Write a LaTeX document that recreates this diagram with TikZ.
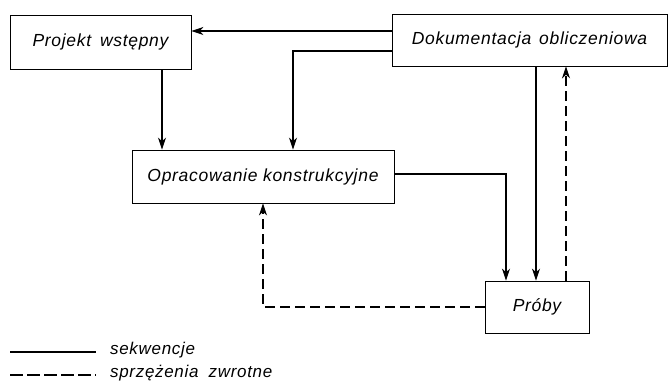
\documentclass[tikz,border=0pt]{standalone}
\usepackage{fontspec}
\setsansfont{Liberation Sans}[LetterSpace=4]
\usetikzlibrary{arrows.meta}
\tikzset{
  box/.style={draw, line width=0.9pt, inner sep=0pt, font=\sffamily\itshape\fontsize{17.5}{20}\selectfont},
  seq/.style={line width=1.1pt, -{Stealth[length=12pt,width=8pt]}},
  fb/.style={line width=1.1pt, dash pattern=on 10pt off 5pt, -{Stealth[length=12pt,width=8pt]}},
  legendtext/.style={font=\sffamily\itshape\fontsize{17}{20}\selectfont, anchor=west, inner sep=0pt}
}
\begin{document}
\begin{tikzpicture}[x=1pt,y=-1pt]
\useasboundingbox (0,0) rectangle (668,383);
\node[box, minimum width=181pt, minimum height=54pt] (proj) at (100.5,42) {Projekt\hspace{0.5em}wstępny};
\node[box, minimum width=275pt, minimum height=52pt] (dok) at (529.5,40) {Dokumentacja\hspace{0.45em}obliczeniowa};
\node[box, minimum width=262pt, minimum height=53pt] (opr) at (263,176.5) {Opracowanie konstrukcyjne};
\node[box, minimum width=104pt, minimum height=52pt] (prob) at (537,307) {Próby};
% sequences
\coordinate (d1) at ([yshift=9pt]dok.west);
\draw[seq] (d1) -- (d1 -| proj.east);
\coordinate (d2) at ([yshift=-11pt]dok.west);
\coordinate (o1) at ([xshift=30pt]opr.north);
\draw[seq] (d2) -| (o1);
\coordinate (p1) at ([xshift=61.5pt]proj.south);
\draw[seq] (p1) -- (p1 |- opr.north);
\coordinate (o2) at ([yshift=2.5pt]opr.east);
\coordinate (pn1) at ([xshift=-31pt]prob.north);
\draw[seq] (o2) -| (pn1);
\coordinate (pn2) at ([xshift=-1pt]prob.north);
\draw[seq] (pn2 |- dok.south) -- (pn2);
% feedback
\coordinate (pn3) at ([xshift=29pt]prob.north);
\draw[fb] (pn3) -- (pn3 |- dok.south);
\draw[fb] (prob.west) -| (opr.south);
% legend
\coordinate (l1a) at (10,352);
\coordinate (l1b) at (96,352);
\coordinate (l2a) at (10,375);
\coordinate (l2b) at (96,375);
\draw[line width=1.1pt] (l1a) -- (l1b);
\draw[line width=1.1pt, dash pattern=on 13pt off 4pt] (l2a) -- (l2b);
\node[legendtext] (t1) at (110,350) {sekwencje};
\node[legendtext] (t2) at (110,373) {sprzężenia\hspace{0.6em}zwrotne};
\end{tikzpicture}
\end{document}
